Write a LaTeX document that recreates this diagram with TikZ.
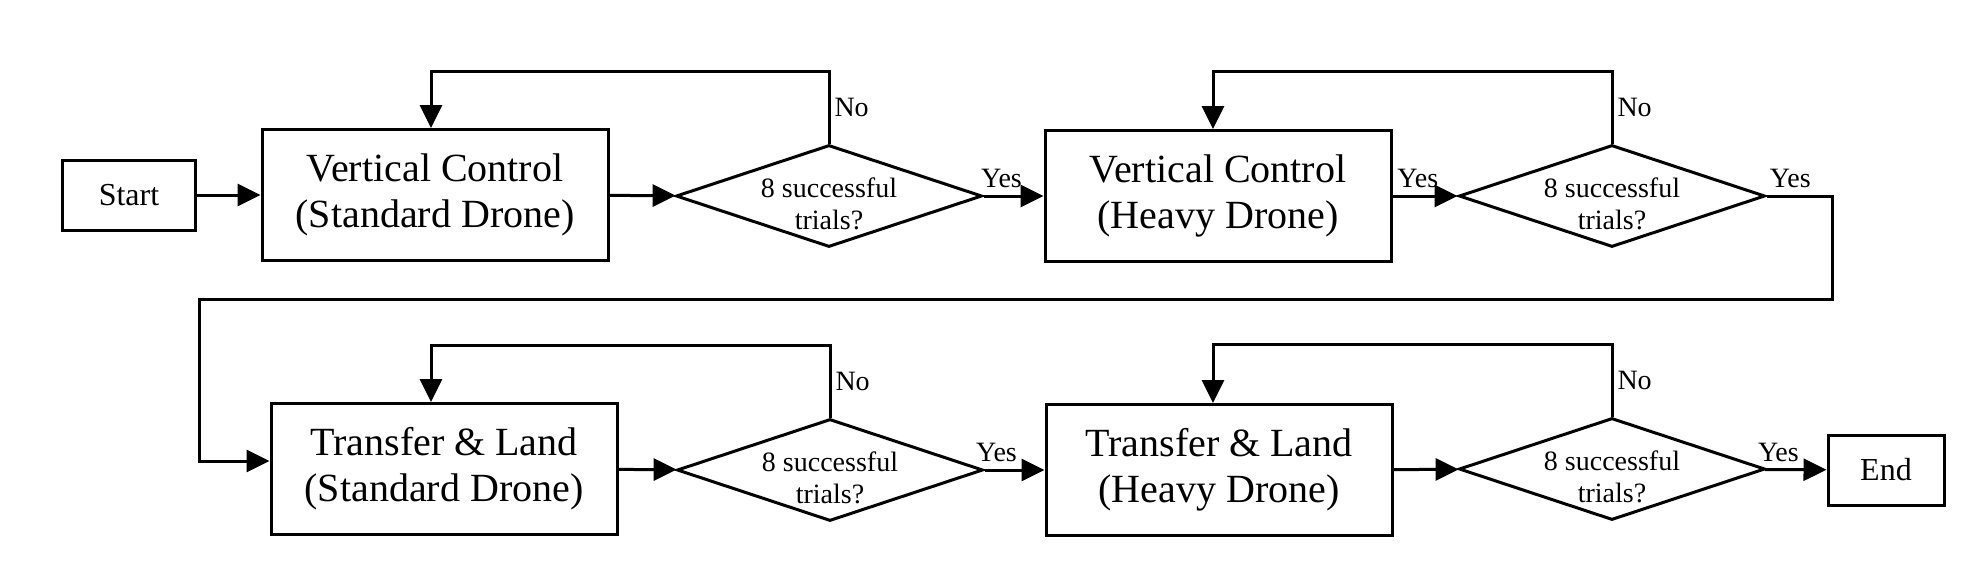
\documentclass[tikz,border=0pt]{standalone}
\usepackage{fontspec}
\setmainfont{Liberation Serif}
\usetikzlibrary{shapes.geometric,arrows.meta}

% text of the decision nodes, set a little below the centre
\newcommand{\trialtext}{\raisebox{0pt}[13.6pt][12pt]{\begin{tabular}[t]{@{}c@{}}8 successful\\trials?\end{tabular}}}

\tikzset{
  stage/.style={draw, line width=1.5pt, minimum width=173pt, minimum height=65.5pt, align=center, font=\fontsize{20}{23}\selectfont},
  terminal/.style={draw, line width=1.5pt, minimum height=35pt, align=center, font=\fontsize{16}{19}\selectfont},
  check/.style={draw, diamond, aspect=3, inner sep=0pt, line width=1.5pt, minimum width=153pt, minimum height=51pt, align=center, font=\fontsize{14}{16}\selectfont},
  flow/.style={-{Triangle[length=11.5pt,width=11pt]}, line width=1.5pt},
  lbl/.style={font=\fontsize{14}{16}\selectfont}
}

\begin{document}
\begin{tikzpicture}[x=0.5pt, y=-0.5pt]
        \useasboundingbox (0,0) rectangle (1983,579);
        % Top row: vertical control
        \node[terminal, minimum width=66.5pt] (start) at (129,195) {Start};
        \node[stage] (vcstd) at (435,195) {Vertical Control\\(Standard Drone)};
        \node[check] (chk1) at (829,196) {\trialtext};
        \node[stage] (vcheavy) at (1218,196) {Vertical Control\\(Heavy Drone)};
        \node[check] (chk2) at (1612,196) {\trialtext};
        % Bottom row: transfer and land
        \node[stage] (tlstd) at (444,469) {Transfer \& Land\\(Standard Drone)};
        \node[check] (chk3) at (830,470) {\trialtext};
        \node[stage] (tlheavy) at (1219,470) {Transfer \& Land\\(Heavy Drone)};
        \node[check] (chk4) at (1612,469) {\trialtext};
        \node[terminal, minimum width=58pt] (finish) at (1886,470) {End};
        \coordinate (wrap) at (199,299);

        \draw[flow] (start) -- (vcstd);
        \draw[flow] (vcstd) -- (chk1);
        \draw[flow] (chk1) -- node[lbl,above,pos=0.3] {Yes} (vcheavy);
        \draw[flow] (vcheavy) -- node[lbl,above,pos=0.39] {Yes} (chk2);
        \draw[flow] (chk2.east) -- node[lbl,above,pos=0.36] {Yes} ++(66,0) |- (wrap) |- ([yshift=4pt]tlstd.west);
        \draw[flow] (tlstd) -- (chk3);
        \draw[flow] (chk3) -- node[lbl,above,pos=0.2] {Yes} (tlheavy);
        \draw[flow] (tlheavy) -- (chk4);
        \draw[flow] (chk4) -- node[lbl,above,pos=0.22] {Yes} (finish);

        % Retry loops
        \draw[flow] (chk1.north) -- node[lbl,right,inner sep=2pt] {No} ++(0,-72) -| ([xshift=-2pt]vcstd.north);
        \draw[flow] (chk2.north) -- node[lbl,right,inner sep=2pt] {No} ++(0,-72) -| ([xshift=-2.5pt]vcheavy.north);
        \draw[flow] (chk3.north) -- node[lbl,right,inner sep=2pt] {No} ++(0,-72) -| ([xshift=-6.5pt]tlstd.north);
        \draw[flow] (chk4.north) -- node[lbl,right,inner sep=2pt] {No} ++(0,-72) -| ([xshift=-3pt]tlheavy.north);
    \end{tikzpicture}
\end{document}
